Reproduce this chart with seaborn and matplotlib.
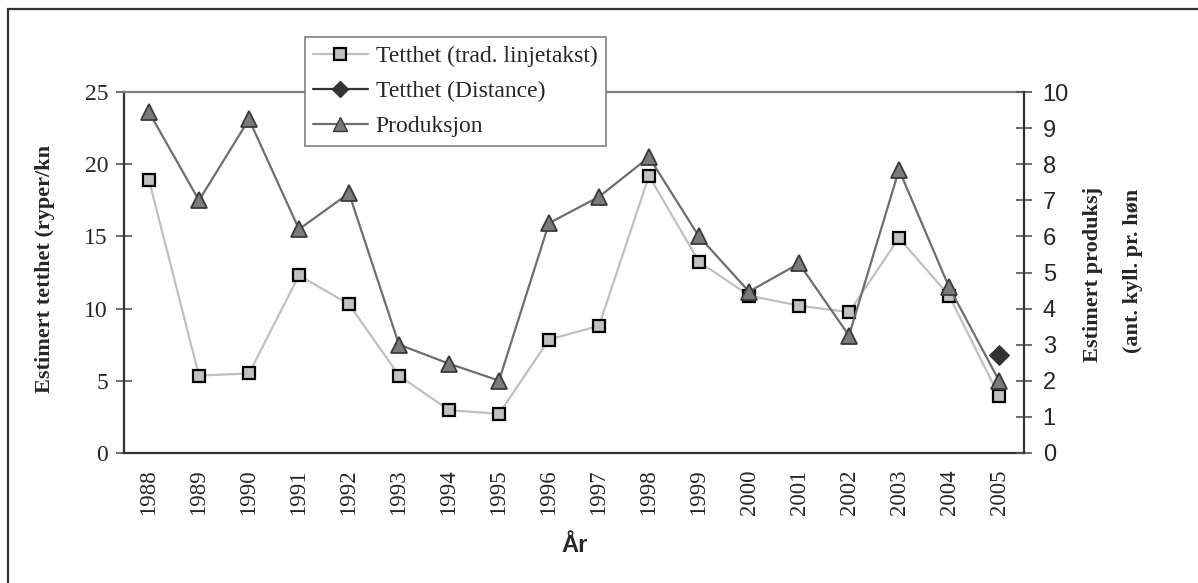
import matplotlib
matplotlib.use('Agg')
import matplotlib.pyplot as plt
import seaborn as sns
import numpy as np
import pandas as pd
from matplotlib.lines import Line2D
from matplotlib.patches import Rectangle

# data
aar = ['1988', '1989', '1990', '1991', '1992', '1993', '1994', '1995', '1996',
       '1997', '1998', '1999', '2000', '2001', '2002', '2003', '2004', '2005']
tetthet_trad = [18.9, 5.35, 5.5, 12.3, 10.3, 5.35, 2.95, 2.7, 7.85,
                8.8, 19.2, 13.25, 10.9, 10.2, 9.75, 14.9, 10.9, 3.95]
tetthet_distance = [np.nan] * 17 + [6.8]
produksjon = [9.45, 7.0, 9.25, 6.2, 7.2, 3.0, 2.47, 2.0, 6.37,
              7.1, 8.2, 6.0, 4.47, 5.25, 3.25, 7.85, 4.6, 2.0]

df = pd.DataFrame({'pos': np.arange(len(aar)), 'aar': aar,
                   'trad': tetthet_trad, 'dist': tetthet_distance,
                   'prod': produksjon})

sns.set_style('white')
plt.rcParams['font.family'] = ['Liberation Serif', 'DejaVu Serif']

W, H = 1198, 583
fig = plt.figure(figsize=(W / 100, H / 100), dpi=100)
ax = fig.add_axes([124 / W, 1 - 452.7 / H, 900 / W, 360.4 / H])
ax2 = ax.twinx()

# --- serier ---
sns.lineplot(data=df, x='pos', y='trad', ax=ax, color='#c0c0c0', lw=1.6,
             marker='s', markersize=9, markerfacecolor='#c0c0c0',
             markeredgecolor='black', markeredgewidth=1.6, zorder=3)
sns.lineplot(data=df.dropna(subset=['dist']), x='pos', y='dist', ax=ax,
             color='#333333', lw=1.6, marker='D', markersize=10,
             markerfacecolor='#333333', markeredgecolor='#333333', zorder=4)
sns.lineplot(data=df, x='pos', y='prod', ax=ax2, color='#6e6e6e', lw=1.6,
             marker='^', markersize=11, markerfacecolor='#7a7a7a',
             markeredgecolor='#3a3a3a', markeredgewidth=1.3, zorder=3)

# --- akser ---
n = len(aar)
ax.set_xlim(-0.5, n - 0.5)
ax.set_ylim(0, 25)
ax2.set_ylim(0, 10)
ax.set_yticks(np.arange(0, 26, 5))
ax2.set_yticks(np.arange(0, 11, 1))
ax.set_xticks(np.arange(n))
ax.set_xticklabels(aar, rotation=90, fontsize=16.5)
ax.set_xticks(np.arange(n + 1) - 0.5, minor=True)
ax.tick_params(axis='x', which='major', length=0, pad=12)
ax.tick_params(axis='x', which='minor', direction='inout', length=11,
               width=1.2, color='#555555')
ax.tick_params(axis='y', direction='inout', length=11, width=1.2,
               color='#555555', labelsize=17, pad=6)
ax2.tick_params(axis='y', direction='inout', length=11, width=1.2,
                color='#555555', labelsize=17, pad=8)
for lab in ax2.get_yticklabels():
    lab.set_fontfamily('Liberation Sans')
ax.set_xlabel('')
ax.set_ylabel('')
ax2.set_ylabel('')

for s in ['left', 'bottom']:
    ax.spines[s].set_color('#333333')
    ax.spines[s].set_linewidth(1.6)
ax.spines['top'].set_color('#808080')
ax.spines['top'].set_linewidth(1.6)
ax.spines['right'].set_visible(False)
for s in ['left', 'top', 'bottom']:
    ax2.spines[s].set_visible(False)
ax2.spines['right'].set_color('#333333')
ax2.spines['right'].set_linewidth(1.6)

# --- tekster ---
fig.text(45 / W, 1 - 393 / H, 'Estimert tetthet (ryper/kn', rotation=90,
         ha='center', va='bottom', fontsize=16, fontweight='bold')
fig.text(1093 / W, 1 - 362 / H, 'Estimert produksj', rotation=90,
         ha='center', va='bottom', fontsize=16, fontweight='bold')
fig.text(1133 / W, 1 - 353 / H, '(ant. kyll. pr. høn', rotation=90,
         ha='center', va='bottom', fontsize=16, fontweight='bold')
fig.text(575 / W, 1 - 545 / H, 'År', ha='center', va='center',
         fontsize=17, fontweight='bold', family='Liberation Sans')

# --- legende ---
handles = [
    Line2D([], [], color='#c0c0c0', lw=1.6, marker='s', markersize=8,
           markerfacecolor='#c0c0c0', markeredgecolor='black', markeredgewidth=1.6),
    Line2D([], [], color='#333333', lw=1.6, marker='D', markersize=8,
           markerfacecolor='#333333', markeredgecolor='#333333'),
    Line2D([], [], color='#6e6e6e', lw=1.6, marker='^', markersize=10,
           markerfacecolor='#7a7a7a', markeredgecolor='#3a3a3a'),
]
labels = ['Tetthet (trad. linjetakst)', 'Tetthet (Distance)', 'Produksjon']
leg = fig.legend(handles, labels, loc='upper left',
                 bbox_to_anchor=(305 / W, 1 - 37 / H), fontsize=17,
                 frameon=True, fancybox=False, framealpha=1,
                 edgecolor='#808080', handlelength=2.3, handletextpad=0.35,
                 labelspacing=0.58, borderpad=0.35, borderaxespad=0)
leg.get_frame().set_linewidth(1.2)
leg.set_zorder(10)

# ytre ramme (delvis utenfor bildet)
fig.patches.append(Rectangle((8 / W, -0.1), 1.2, 1 - 9 / H + 0.1,
                             transform=fig.transFigure, fill=False,
                             edgecolor='#333333', lw=1.6, zorder=0))

plt.savefig('out.png', dpi=100)
